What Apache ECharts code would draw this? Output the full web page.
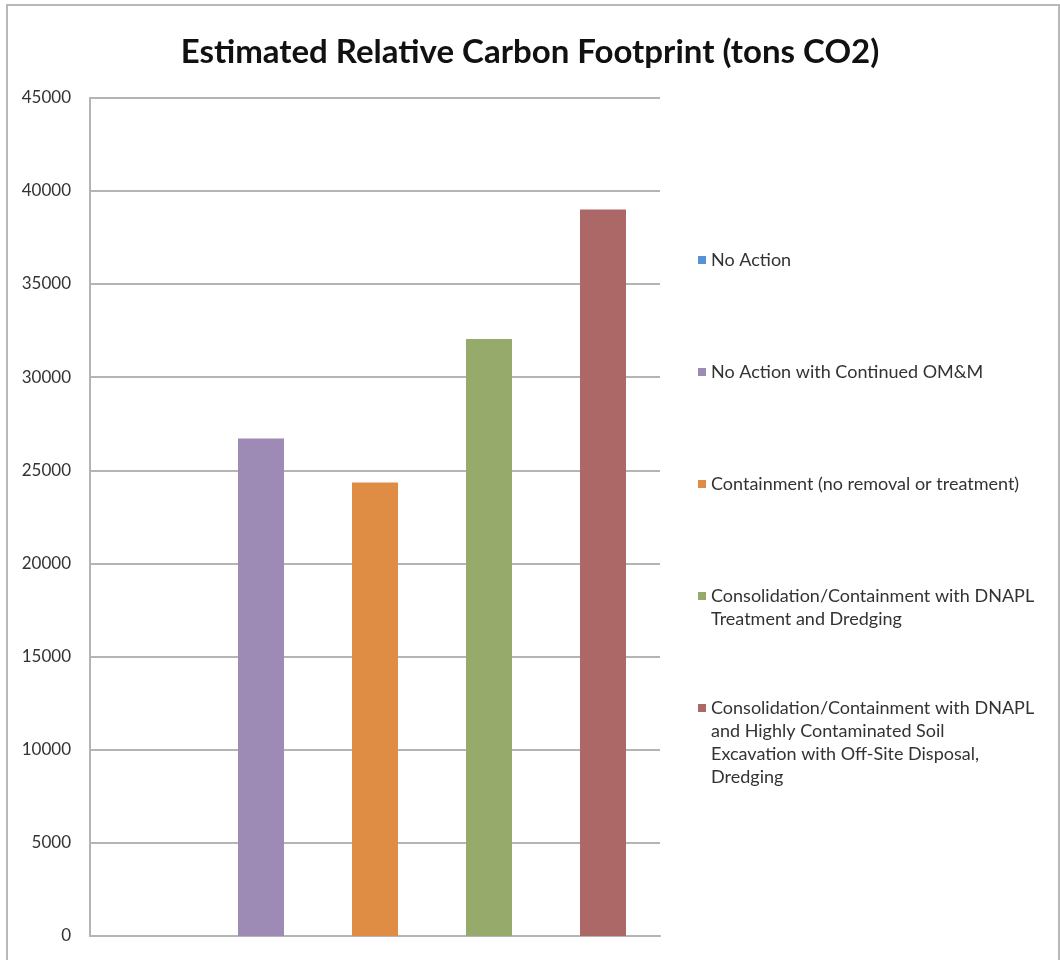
<!DOCTYPE html>
<html>
<head>
<meta charset="utf-8">
<script src="https://cdn.jsdelivr.net/npm/echarts@6/dist/echarts.min.js"></script>
<style>html,body{margin:0;padding:0;background:#fff}#c{width:1060px;height:960px}</style>
</head>
<body>
<div id="c"></div>
<script>
const titleText = 'Estimated Relative Carbon Footprint (tons CO2)';
const categories = ['A', 'B', 'C', 'D', 'E'];
const seriesNames = [
  'No Action',
  'No Action with Continued OM&M',
  'Containment (no removal or treatment)',
  'Consolidation/Containment with DNAPL Treatment and Dredging',
  'Consolidation/Containment with DNAPL and Highly Contaminated Soil Excavation with Off-Site Disposal, Dredging'
];
const legendLines = [
  ['No Action'],
  ['No Action with Continued OM&M'],
  ['Containment (no removal or treatment)'],
  ['Consolidation/Containment with DNAPL', 'Treatment and Dredging'],
  ['Consolidation/Containment with DNAPL', 'and Highly Contaminated Soil', 'Excavation with Off-Site Disposal,', 'Dredging']
];
const values = [0, 26700, 24350, 32050, 39000];
const yTicks = { min: 0, max: 45000, interval: 5000 };
const colors = ['#5592d8', '#9d8ab5', '#df8d45', '#96aa6b', '#ab6866'];

const FONT = 'Lato';
const lineH = 23;
const legendCenters = [260, 372, 484, 596, 708];

const series = seriesNames.map((name, i) => ({
  name: name,
  type: 'bar',
  stack: 'one',
  barWidth: 46,
  itemStyle: { color: colors[i] },
  data: categories.map((c, j) => (j === i ? values[i] : '-'))
}));

const legends = seriesNames.map((name, i) => {
  const n = legendLines[i].length;
  const pad = [];
  for (let k = 0; k < n - 1; k++) pad.push(' ');
  const text = pad.concat(legendLines[i]).join('\n');
  return {
    data: [name],
    left: 698,
    top: legendCenters[i] - (n - 1) * lineH - lineH / 2,
    orient: 'vertical',
    icon: 'rect',
    itemWidth: 8,
    itemHeight: 8,
    itemGap: 0,
    padding: 0,
    selectedMode: false,
    formatter: () => text,
    textStyle: {
      fontFamily: FONT,
      fontSize: 18,
      color: '#333',
      lineHeight: lineH
    }
  };
});

const chart = echarts.init(document.getElementById('c'), null, { renderer: 'canvas' });
chart.setOption({
  animation: false,
  backgroundColor: '#fff',
  title: {
    text: titleText,
    left: 'center',
    top: 31,
    textStyle: { fontFamily: FONT, fontWeight: 'bold', fontSize: 33, color: '#111' }
  },
  legend: legends,
  grid: { left: 90, right: 400, top: 97.7, bottom: 24, containLabel: false },
  xAxis: {
    type: 'category',
    data: categories,
    axisLine: { show: true, lineStyle: { color: '#b4b4b4', width: 2 } },
    axisTick: { show: false },
    axisLabel: { show: false },
    splitLine: { show: false }
  },
  yAxis: {
    type: 'value',
    min: yTicks.min,
    max: yTicks.max,
    interval: yTicks.interval,
    axisLine: { show: true, lineStyle: { color: '#b4b4b4', width: 2 } },
    axisTick: { show: false },
    axisLabel: { fontFamily: FONT, fontSize: 17, color: '#333', margin: 19, formatter: v => String(v) },
    splitLine: { show: true, lineStyle: { color: '#b4b4b4', width: 2 } }
  },
  graphic: [{
    type: 'rect',
    shape: { x: 7, y: 5, width: 1052, height: 980 },
    style: { fill: 'none', stroke: '#b8b8b8', lineWidth: 2 },
    silent: true,
    z: 100
  }],
  series: series
});
</script>
</body>
</html>
